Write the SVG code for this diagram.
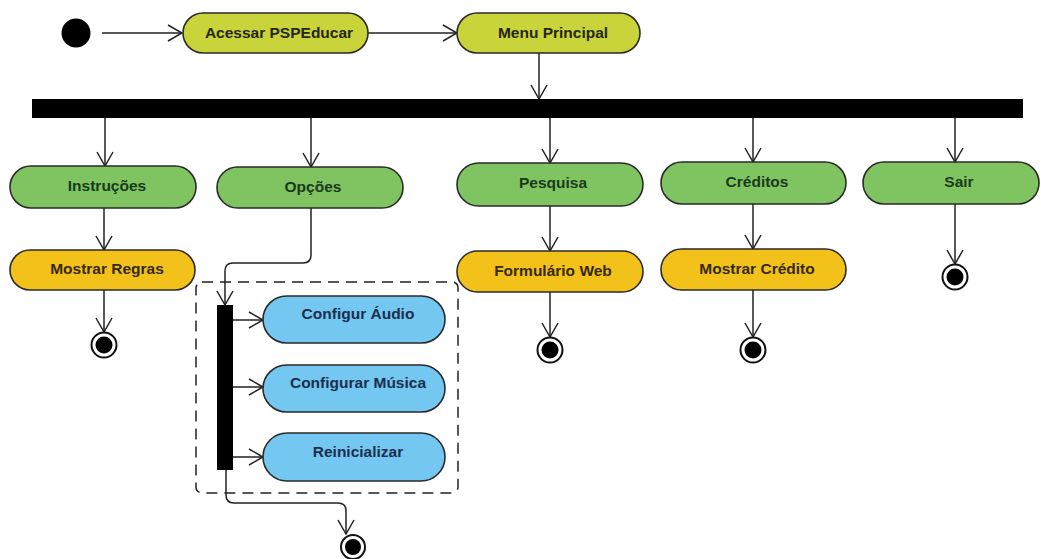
<svg xmlns="http://www.w3.org/2000/svg" width="1041" height="559" viewBox="0 0 1041 559">
  <style>
    .act { stroke: #2a2a2a; stroke-width: 1.6; }
    .lime { fill: #c8d43a; }
    .green { fill: #7fc461; }
    .gold { fill: #f2c21b; }
    .sky { fill: #74c7f0; }
    .lbl { font-family: "Liberation Sans", Arial, sans-serif; font-weight: bold; font-size: 15.5px; text-anchor: middle; }
    .t-lime { fill: #262612; }
    .t-green { fill: #1a3a1c; }
    .t-gold { fill: #362908; }
    .t-sky { fill: #1a2e4c; }
    .edge { fill: none; stroke: #222; stroke-width: 1.5; marker-end: url(#open); }
    .bar { fill: #000; }
    .ring { fill: #fff; stroke: #111; stroke-width: 2; }
    .dot { fill: #000; }
  </style>
  <defs>
    <marker id="open" viewBox="0 0 16 18" refX="15" refY="9" markerWidth="16" markerHeight="18" markerUnits="userSpaceOnUse" orient="auto">
      <path d="M1,1 L15,9 L1,17" fill="none" stroke="#222" stroke-width="1.5"/>
    </marker>
  </defs>

  <rect width="1041" height="559" fill="#fff"/>

  <!-- options region (dashed) -->
  <rect id="options-region" x="196" y="282" width="262" height="211" rx="6" fill="none" stroke="#222" stroke-width="1.5" stroke-dasharray="11,7"/>

  <!-- connectors -->
  <g id="connectors">
    <line class="edge" x1="102" y1="33" x2="182" y2="33"/>
    <line class="edge" x1="368" y1="33" x2="457" y2="33"/>
    <line class="edge" x1="539" y1="53" x2="539" y2="99"/>

    <line class="edge" x1="105" y1="118" x2="105" y2="166"/>
    <line class="edge" x1="311" y1="118" x2="311" y2="167"/>
    <line class="edge" x1="550" y1="118" x2="550" y2="163"/>
    <line class="edge" x1="753" y1="118" x2="753" y2="162"/>
    <line class="edge" x1="955" y1="118" x2="955" y2="162"/>

    <line class="edge" x1="104" y1="208" x2="104" y2="250"/>
    <line class="edge" x1="104" y1="290" x2="104" y2="332"/>
    <line class="edge" x1="550" y1="206" x2="550" y2="251"/>
    <line class="edge" x1="550" y1="292" x2="550" y2="337"/>
    <line class="edge" x1="753" y1="204" x2="753" y2="249"/>
    <line class="edge" x1="753" y1="290" x2="753" y2="337"/>
    <line class="edge" x1="955" y1="204" x2="955" y2="264"/>

    <path class="edge" d="M311,208 L311,255 Q311,263 303,263 L233,263 Q225,263 225,271 L225,305"/>

    <line class="edge" x1="233" y1="320" x2="263" y2="320"/>
    <line class="edge" x1="233" y1="387" x2="263" y2="387"/>
    <line class="edge" x1="233" y1="457" x2="263" y2="457"/>

    <path class="edge" d="M226,470 L226,495 Q226,503 234,503 L338,503 Q346,503 346,511 L346,534"/>
  </g>

  <!-- start -->
  <g id="start">
    <circle class="dot" cx="76" cy="33" r="14.5"/>
  </g>

  <!-- main flow -->
  <g id="acessar">
    <rect class="act lime" x="183" y="13" width="185" height="40" rx="20"/>
    <text class="lbl t-lime" x="279" y="38">Acessar PSPEducar</text>
  </g>
  <g id="menu">
    <rect class="act lime" x="457" y="13" width="183" height="40" rx="20"/>
    <text class="lbl t-lime" x="553" y="38">Menu Principal</text>
  </g>

  <g id="fork-main">
    <rect class="bar" x="32" y="99" width="991" height="19"/>
  </g>

  <!-- menu choices -->
  <g id="instrucoes">
    <rect class="act green" x="10" y="166" width="186" height="42" rx="21"/>
    <text class="lbl t-green" x="107" y="191">Instruções</text>
  </g>
  <g id="opcoes">
    <rect class="act green" x="217" y="167" width="186" height="41" rx="20.5"/>
    <text class="lbl t-green" x="313" y="192">Opções</text>
  </g>
  <g id="pesquisa">
    <rect class="act green" x="457" y="163" width="186" height="43" rx="21.5"/>
    <text class="lbl t-green" x="553" y="188">Pesquisa</text>
  </g>
  <g id="creditos">
    <rect class="act green" x="661" y="162" width="185" height="42" rx="21"/>
    <text class="lbl t-green" x="757" y="187">Créditos</text>
  </g>
  <g id="sair">
    <rect class="act green" x="863" y="162" width="176" height="42" rx="21"/>
    <text class="lbl t-green" x="959" y="187">Sair</text>
  </g>

  <!-- follow-up actions -->
  <g id="mostrar-regras">
    <rect class="act gold" x="10" y="250" width="185" height="40" rx="20"/>
    <text class="lbl t-gold" x="107" y="274">Mostrar Regras</text>
  </g>
  <g id="formulario-web">
    <rect class="act gold" x="457" y="251" width="186" height="41" rx="20.5"/>
    <text class="lbl t-gold" x="553" y="276">Formulário Web</text>
  </g>
  <g id="mostrar-credito">
    <rect class="act gold" x="661" y="249" width="185" height="41" rx="20.5"/>
    <text class="lbl t-gold" x="757" y="274">Mostrar Crédito</text>
  </g>

  <!-- options sub-flow -->
  <g id="fork-options">
    <rect class="bar" x="217" y="305" width="16" height="165"/>
  </g>
  <g id="configur-audio">
    <rect class="act sky" x="263" y="296" width="182" height="47" rx="23.5"/>
    <text class="lbl t-sky" x="358" y="319">Configur Áudio</text>
  </g>
  <g id="configurar-musica">
    <rect class="act sky" x="263" y="365" width="182" height="47" rx="23.5"/>
    <text class="lbl t-sky" x="358" y="388">Configurar Música</text>
  </g>
  <g id="reinicializar">
    <rect class="act sky" x="263" y="433" width="182" height="48" rx="24"/>
    <text class="lbl t-sky" x="358" y="457">Reinicializar</text>
  </g>

  <!-- end points -->
  <g id="end-regras">
    <circle class="ring" cx="104" cy="345" r="12.5"/>
    <circle class="dot" cx="104" cy="345" r="8.5"/>
  </g>
  <g id="end-pesquisa">
    <circle class="ring" cx="550" cy="350" r="12.5"/>
    <circle class="dot" cx="550" cy="350" r="8.5"/>
  </g>
  <g id="end-creditos">
    <circle class="ring" cx="753" cy="350" r="12.5"/>
    <circle class="dot" cx="753" cy="350" r="8.5"/>
  </g>
  <g id="end-sair">
    <circle class="ring" cx="955" cy="277" r="12.5"/>
    <circle class="dot" cx="955" cy="277" r="8.5"/>
  </g>
  <g id="end-opcoes">
    <circle class="ring" cx="353" cy="547" r="12"/>
    <circle class="dot" cx="353" cy="547" r="8"/>
  </g>
</svg>
